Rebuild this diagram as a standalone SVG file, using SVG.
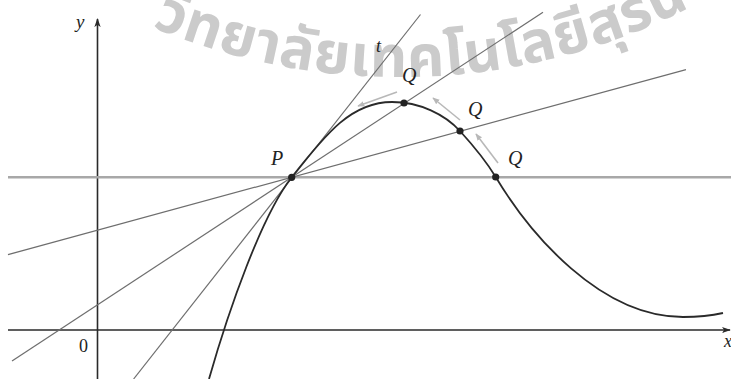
<svg xmlns="http://www.w3.org/2000/svg" width="731" height="379" viewBox="0 0 731 379">
<style>
.wm{font-family:"Noto Sans Thai","Noto Sans","DejaVu Sans",sans-serif;font-weight:bold;font-size:58px;fill:#cbcbcb}
.lbl{font-family:"Liberation Serif","Times New Roman",serif;font-style:italic;font-size:20px;fill:#222}
.num{font-family:"Liberation Serif","Times New Roman",serif;font-size:18px;fill:#222}
.axis{stroke:#2a2a2a;stroke-width:1.6;fill:none}
.sec{stroke:#6e6e6e;stroke-width:1.2;fill:none}
.hor{stroke:#a8a8a8;stroke-width:2.4;fill:none}
.crv{stroke:#2a2a2a;stroke-width:1.8;fill:none}
.mv{stroke:#b8b8b8;stroke-width:1.6;fill:none;marker-end:url(#ah)}
.dot{fill:#222}
</style>
<defs>
<marker id="ah" viewBox="0 0 10 10" refX="9" refY="5" markerWidth="7" markerHeight="7" markerUnits="userSpaceOnUse" orient="auto"><path d="M0,1 L10,5 L0,9 Z" fill="#b8b8b8"/></marker>
<marker id="ax" viewBox="0 0 10 10" refX="9" refY="5" markerWidth="9" markerHeight="9" markerUnits="userSpaceOnUse" orient="auto"><path d="M0,1.5 L10,5 L0,8.5 L2.5,5 Z" fill="#2a2a2a"/></marker>
<path id="arc" d="M -9.5 -72 A 637 637 0 0 0 809.5 -72"/>
</defs>
<rect width="731" height="379" fill="#fff"/>
<g id="watermark">
<text class="wm"><textPath href="#arc" startOffset="190" textLength="556" lengthAdjust="spacing">วิทยาลัยเทคโนโลยีสุรน</textPath></text>
</g>
<g id="axes">
<line class="axis" x1="8" y1="330" x2="730" y2="330" marker-end="url(#ax)"/>
<line class="axis" x1="97.5" y1="379" x2="97.5" y2="19" marker-end="url(#ax)"/>
</g>
<g id="connectors">
<line class="hor" x1="8" y1="177.3" x2="731" y2="177.3"/>
<line id="tangent" class="sec" x1="133.6" y1="379" x2="420.5" y2="14.5"/>
<line id="secant1" class="sec" x1="12" y1="361" x2="543" y2="12.2"/>
<line id="secant2" class="sec" x1="8" y1="254.7" x2="686" y2="69.6"/>
<line class="mv" x1="397" y1="92" x2="358" y2="106"/>
<line class="mv" x1="460" y1="120" x2="433" y2="98"/>
<line class="mv" x1="498" y1="163" x2="476" y2="134"/>
</g>
<g id="curve">
<path class="crv" d="M 209 379 C 229 309 261.7 215.6 291.7 177.3 C 326.7 132.6 352 102 392 102 C 420 102 445 114.5 460 131 C 472 144.2 486 161 495.7 177 C 530 234 600 317 683 317 C 700 317 712 315.5 723 313"/>
</g>
<g id="points">
<circle id="P" class="dot" cx="291.7" cy="177.3" r="3.6"/>
<circle id="Q1" class="dot" cx="404" cy="103" r="3.6"/>
<circle id="Q2" class="dot" cx="460" cy="131" r="3.6"/>
<circle id="Q3" class="dot" cx="495.7" cy="177" r="3.6"/>
</g>
<g id="labels">
<text class="lbl" x="76" y="28" style="font-size:19px">y</text>
<text class="lbl" x="376" y="52" style="font-size:18px">t</text>
<text class="lbl" x="402" y="82">Q</text>
<text class="lbl" x="468" y="116">Q</text>
<text class="lbl" x="508" y="165">Q</text>
<text class="lbl" x="271" y="165">P</text>
<text class="num" x="79" y="352">0</text>
<text class="lbl" x="724" y="347" style="font-size:18px">x</text>
</g>
</svg>
